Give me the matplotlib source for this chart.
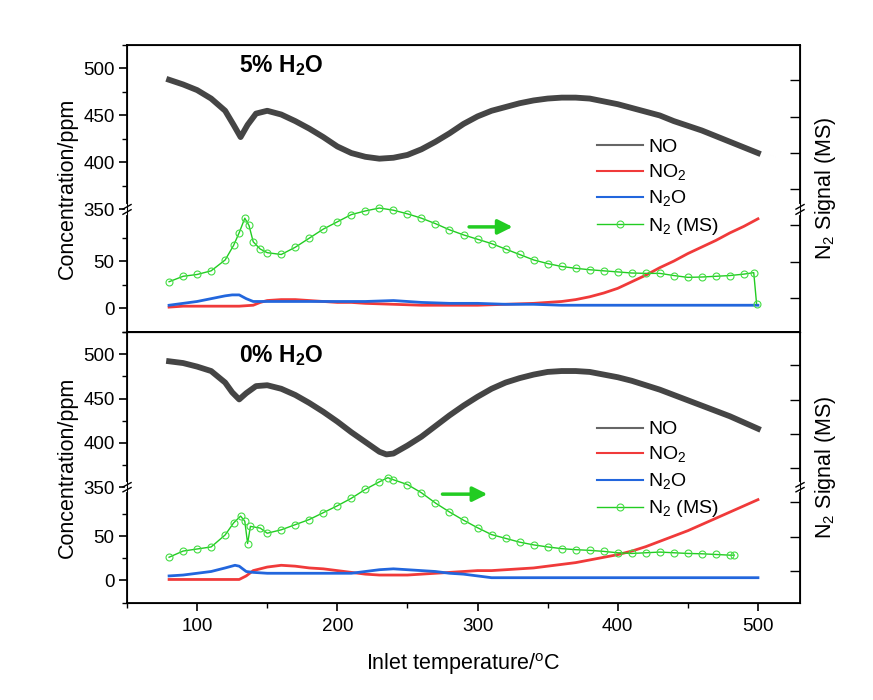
import numpy as np
import matplotlib
matplotlib.use('Agg')
import matplotlib.pyplot as plt

plt.rcParams['font.family'] = ['Liberation Sans', 'DejaVu Sans']
plt.rcParams['mathtext.fontset'] = 'custom'
plt.rcParams['mathtext.rm'] = 'Liberation Sans'
plt.rcParams['mathtext.bf'] = 'Liberation Sans:bold'

# ── Data: 5% H2O panel ───────────────────────────────────────
t_no_5 = [80, 90, 100, 110, 120, 126, 131, 136, 142, 150, 160, 170, 180, 190, 200,
          210, 220, 230, 240, 250, 260, 270, 280, 290, 300, 310, 320, 330, 340, 350,
          360, 370, 380, 390, 400, 410, 420, 430, 440, 450, 460, 470, 480, 490, 500]
no_5 = [488, 483, 477, 468, 455, 440, 427, 440, 452, 455, 451, 444, 436, 427, 417,
        410, 406, 404, 405, 408, 414, 422, 431, 441, 449, 455, 459, 463, 466, 468,
        469, 469, 468, 465, 462, 458, 454, 450, 444, 439, 434, 428, 422, 416, 410]

t_no2_5 = [80, 90, 100, 110, 120, 130, 140, 145, 150, 160, 170, 180, 190, 200, 210,
           220, 240, 260, 280, 300, 320, 340, 360, 370, 380, 390, 400, 410, 420, 430,
           440, 450, 460, 470, 480, 490, 500]
no2_5 = [1, 2, 2, 2, 2, 2, 3, 6, 8, 9, 9, 8, 7, 6, 6,
         5, 4, 3, 3, 3, 4, 5, 7, 9, 12, 16, 21, 28, 35, 43,
         50, 58, 65, 72, 80, 87, 95]

t_n2o_5 = [80, 90, 100, 110, 120, 125, 130, 135, 140, 160, 180, 200, 220, 240, 260,
           280, 300, 320, 340, 360, 380, 400, 420, 440, 460, 480, 500]
n2o_5 = [3, 5, 7, 10, 13, 14, 14, 10, 7, 7, 7, 7, 7, 8, 6,
         5, 5, 4, 4, 3, 3, 3, 3, 3, 3, 3, 3]

t_n2_5 = [80, 90, 100, 110, 120, 126, 130, 134, 137, 140, 145, 150, 160, 170, 180,
          190, 200, 210, 220, 230, 240, 250, 260, 270, 280, 290, 300, 310, 320, 330,
          340, 350, 360, 370, 380, 390, 400, 410, 420, 430, 440, 450, 460, 470, 480,
          490, 497, 499]
n2_5 = [1.45, 1.6, 1.65, 1.75, 2.05, 2.45, 2.8, 3.2, 3.0, 2.55, 2.35, 2.25, 2.2, 2.4, 2.65,
        2.9, 3.1, 3.3, 3.4, 3.48, 3.42, 3.32, 3.2, 3.05, 2.88, 2.74, 2.62, 2.5, 2.35, 2.2,
        2.05, 1.95, 1.87, 1.82, 1.78, 1.75, 1.72, 1.69, 1.68, 1.68, 1.62, 1.57, 1.58, 1.6, 1.62,
        1.66, 1.7, 0.85]

# ── Data: 0% H2O panel ───────────────────────────────────────
t_no_0 = [80, 90, 100, 110, 120, 125, 130, 135, 142, 150, 160, 170, 180, 190, 200,
          210, 220, 230, 235, 240, 250, 260, 270, 280, 290, 300, 310, 320, 330, 340,
          350, 360, 370, 380, 390, 400, 410, 420, 430, 440, 450, 460, 470, 480, 490, 500]
no_0 = [492, 490, 486, 481, 468, 457, 449, 456, 464, 465, 461, 454, 445, 435, 424,
        412, 401, 390, 387, 388, 397, 407, 419, 431, 442, 452, 461, 468, 473, 477,
        480, 481, 481, 480, 477, 474, 470, 465, 460, 454, 448, 442, 436, 430, 423, 416]

t_no2_0 = [80, 100, 120, 130, 135, 140, 150, 160, 170, 180, 190, 200, 210, 220, 230,
           240, 250, 260, 270, 280, 290, 300, 310, 320, 330, 340, 350, 360, 370, 380,
           390, 400, 410, 420, 430, 440, 450, 460, 470, 480, 490, 500]
no2_0 = [1, 1, 1, 1, 5, 11, 15, 17, 16, 14, 13, 11, 9, 7, 6,
         6, 6, 7, 8, 9, 10, 11, 11, 12, 13, 14, 16, 18, 20, 23,
         26, 29, 33, 38, 44, 50, 56, 63, 70, 77, 84, 91]

t_n2o_0 = [80, 90, 100, 110, 120, 127, 130, 135, 140, 150, 170, 190, 210, 220, 230,
           240, 250, 260, 270, 280, 290, 300, 310, 320, 360, 400, 440, 480, 500]
n2o_0 = [5, 6, 8, 10, 14, 17, 16, 10, 9, 8, 8, 8, 8, 10, 12,
         13, 12, 11, 10, 8, 7, 5, 3, 3, 3, 3, 3, 3, 3]

t_n2_0 = [80, 90, 100, 110, 120, 126, 131, 134, 136, 138, 145, 150, 160, 170, 180,
          190, 200, 210, 220, 230, 236, 240, 250, 260, 270, 280, 290, 300, 310, 320,
          330, 340, 350, 360, 370, 380, 390, 400, 410, 420, 430, 440, 450, 460, 470,
          480, 483]
n2_0 = [1.4, 1.58, 1.64, 1.7, 2.05, 2.4, 2.6, 2.45, 1.8, 2.3, 2.25, 2.1, 2.2, 2.35, 2.5,
        2.7, 2.9, 3.12, 3.38, 3.6, 3.72, 3.66, 3.52, 3.28, 2.98, 2.72, 2.48, 2.26, 2.06, 1.95,
        1.84, 1.76, 1.7, 1.65, 1.62, 1.6, 1.57, 1.53, 1.51, 1.53, 1.55, 1.53, 1.51, 1.5, 1.48,
        1.46, 1.46]

# broken axis: 350 ppm sits right above 105 on the lower segment
BREAK_SHIFT = 245
ytick_vals = [0, 50, 350, 400, 450, 500]
yminor_vals = [-25, 25, 75, 375, 425, 475, 525]

C_NO, C_NO2, C_N2O, C_N2 = '#454545', '#f03a3a', '#2266dd', '#22cc22'


def brk(y):
    y = np.asarray(y, dtype=float)
    return np.where(y > 200, y - BREAK_SHIFT, y)


def break_mark(ax, yf):
    for x0 in (0, 1):
        ax.plot([x0, x0], [yf - 0.012, yf + 0.012], color='white', lw=3,
                transform=ax.transAxes, clip_on=False, zorder=6)
        for dy in (-0.009, 0.009):
            ax.plot([x0 - 0.006, x0 + 0.006], [yf + dy - 0.008, yf + dy + 0.008],
                    color='black', lw=1.0, transform=ax.transAxes, clip_on=False, zorder=7)


fig = plt.figure(figsize=(8.73, 7.0), dpi=100)
ax_top = fig.add_axes([0.1455, 0.5257, 0.7709, 0.4100])
ax_bot = fig.add_axes([0.1455, 0.1386, 0.7709, 0.3871])

panels = [
    (ax_top, '5% H$_\\mathbf{2}$O', t_no_5, no_5, t_no2_5, no2_5, t_n2o_5, n2o_5,
     t_n2_5, n2_5, (292, 327, 2.96), 0.906, 0.675),
    (ax_bot, '0% H$_\\mathbf{2}$O', t_no_0, no_0, t_no2_0, no2_0, t_n2o_0, n2o_0,
     t_n2_0, n2_0, (273, 309, 3.24), 0.89, 0.672),
]

for (ax, title, tno, no, tno2, no2, tn2o, n2o, tn2, n2, arr, title_y, leg_y) in panels:
    ax.plot(tno, brk(no), color=C_NO, lw=4.2, solid_joinstyle='round', label='NO')
    ax.plot(tno2, brk(no2), color=C_NO2, lw=2.0, label='NO$_2$')
    ax.plot(tn2o, brk(n2o), color=C_N2O, lw=2.0, label='N$_2$O')

    ax.set_xlim(50, 530)
    ax.set_ylim(-25.5, 280)
    ax.set_yticks(brk(ytick_vals))
    ax.set_yticklabels([str(v) for v in ytick_vals])
    ax.set_yticks(brk(yminor_vals), minor=True)
    ax.tick_params(axis='y', which='major', direction='out', length=6, width=1.2,
                   labelsize=13.5, pad=3)
    ax.tick_params(axis='y', which='minor', direction='out', length=3.5, width=1.0)
    ax.set_ylabel('Concentration/ppm', fontsize=15.5)
    ax.yaxis.set_label_coords(-0.073, 0.5)
    for s in ax.spines.values():
        s.set_linewidth(1.3)

    ax2 = ax.twinx()
    ax2.plot(tn2, n2, color=C_N2, lw=1.0, marker='o', markersize=5,
             markerfacecolor='none', markeredgecolor='#44dd44', markeredgewidth=0.8,
             label='N$_2$ (MS)')
    ax2.set_ylim(0.065, 7.97)
    ax2.set_yticks([1, 2, 3, 4, 5, 6, 7])
    ax2.set_yticklabels([])
    ax2.tick_params(axis='y', direction='in', length=7, width=1.0)
    ax2.set_ylabel('N$_2$ Signal (MS)', fontsize=15.5, labelpad=6)
    ax2.annotate('', xy=(arr[1], arr[2]), xytext=(arr[0], arr[2]),
                 arrowprops=dict(arrowstyle='-|>', color=C_N2, lw=2.5, mutation_scale=22))

    ax.text(0.166, title_y, title, transform=ax.transAxes, fontsize=16.5,
            fontweight='bold', ha='left', va='baseline')

    yb = (105 + 25.5) / (280 + 25.5)
    break_mark(ax, yb)

    h1, l1 = ax.get_legend_handles_labels()
    h2, l2 = ax2.get_legend_handles_labels()
    ax2.legend(h1 + h2, l1 + l2, loc='upper left', bbox_to_anchor=(0.698, leg_y),
               frameon=False, fontsize=14, handlelength=2.4, handletextpad=0.25,
               labelspacing=0.33, borderpad=0, borderaxespad=0, numpoints=1)
    leg = ax2.get_legend()
    leg.legend_handles[0].set_linewidth(1.5)
    leg.legend_handles[0].set_color('#666666')
    leg.legend_handles[1].set_linewidth(1.5)
    leg.legend_handles[2].set_linewidth(1.5)

# x axis only on the lower panel
ax_top.tick_params(axis='x', which='both', bottom=False, labelbottom=False)
ax_bot.set_xticks([100, 200, 300, 400, 500])
ax_bot.set_xticks([50, 150, 250, 350, 450], minor=True)
ax_bot.tick_params(axis='x', which='major', direction='out', length=6, width=1.2,
                   labelsize=13.5, pad=5)
ax_bot.tick_params(axis='x', which='minor', direction='out', length=3.5, width=1.0)
ax_bot.set_xlabel('Inlet temperature/$^\\mathregular{o}$C', fontsize=15.5)
ax_bot.xaxis.set_label_coords(0.5, -0.178)

fig.savefig('out.png', dpi=100, facecolor='white')
